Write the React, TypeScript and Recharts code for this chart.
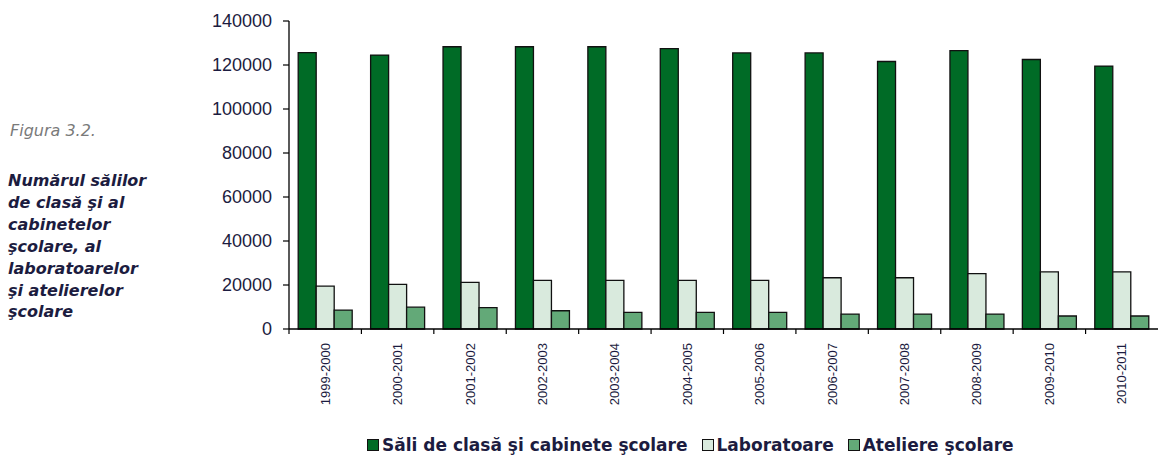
import React from "react";
import { BarChart, Bar, XAxis, YAxis } from "recharts";

const years = [
  "1999-2000", "2000-2001", "2001-2002", "2002-2003", "2003-2004", "2004-2005",
  "2005-2006", "2006-2007", "2007-2008", "2008-2009", "2009-2010", "2010-2011",
];
const sali = [125600, 124500, 128300, 128300, 128300, 127400, 125500, 125500, 121600, 126500, 122500, 119500];
const laboratoare = [19500, 20300, 21200, 22100, 22100, 22100, 22100, 23300, 23300, 25200, 26000, 26000];
const ateliere = [8600, 9900, 9700, 8300, 7600, 7600, 7600, 6800, 6800, 6800, 5900, 5900];
const yTicks = [0, 20000, 40000, 60000, 80000, 100000, 120000, 140000];

const series = [
  { key: "sali", name: "Săli de clasă şi cabinete şcolare", color: "#006b26" },
  { key: "laboratoare", name: "Laboratoare", color: "#d9eadd" },
  { key: "ateliere", name: "Ateliere şcolare", color: "#63a978" },
];

const data = years.map((year, i) => ({
  year,
  sali: sali[i],
  laboratoare: laboratoare[i],
  ateliere: ateliere[i],
}));

const captionLines = [
  "Numărul sălilor",
  "de clasă şi al",
  "cabinetelor",
  "şcolare, al",
  "laboratoarelor",
  "şi atelierelor",
  "şcolare",
];

const textColor = "#1c1c40";

// label rotated bottom-to-top, plus a small tick at the left edge of each category
const YearTick = (props: any) => {
  const { x, y, payload } = props;
  const half = payload && payload.offset ? payload.offset : 36.2;
  return (
    <g>
      <line x1={x - half} x2={x - half} y1={y} y2={y + 5} stroke="#000" strokeWidth={1.2} />
      <text
        transform={`translate(${x},${y + 14}) rotate(-90)`}
        textAnchor="end"
        dominantBaseline="central"
        fontFamily="'Liberation Sans', Arial, sans-serif"
        fontSize={13}
        fill={textColor}
      >
        {payload.value}
      </text>
    </g>
  );
};

export default function App() {
  return (
    <div
      style={{
        position: "absolute",
        left: 0,
        top: 0,
        width: 1158,
        height: 459,
        background: "#fff",
        overflow: "hidden",
      }}
    >
      <div
        style={{
          position: "absolute",
          left: 10,
          top: 121,
          fontFamily: "'DejaVu Sans', sans-serif",
          fontStyle: "italic",
          fontSize: 16,
          color: "#7a7a7a",
        }}
      >
        Figura 3.2.
      </div>
      <div
        style={{
          position: "absolute",
          left: 8,
          top: 170,
          fontFamily: "'DejaVu Sans', sans-serif",
          fontStyle: "italic",
          fontWeight: "bold",
          fontSize: 16,
          lineHeight: "21.9px",
          color: textColor,
        }}
      >
        {captionLines.map((l) => (
          <div key={l}>{l}</div>
        ))}
      </div>

      <div style={{ position: "absolute", left: 0, top: 0 }}>
        <BarChart
          width={1158}
          height={459}
          data={data}
          margin={{ top: 21, right: 0, left: 0, bottom: 0 }}
          barCategoryGap="12.7%"
          barGap={0}
        >
          <XAxis
            dataKey="year"
            height={130}
            axisLine={{ stroke: "#000", strokeWidth: 1.3 }}
            tickLine={false}
            tickSize={0}
            tickMargin={0}
            interval={0}
            tick={<YearTick />}
          />
          <YAxis
            width={289}
            domain={[0, 140000]}
            ticks={yTicks}
            interval={0}
            axisLine={{ stroke: "#000", strokeWidth: 1.3 }}
            tickLine={{ stroke: "#000", strokeWidth: 1.2 }}
            tickSize={6}
            tickMargin={11}
            tick={{
              fill: textColor,
              fontSize: 18,
              fontFamily: "'Liberation Sans', Arial, sans-serif",
            }}
          />
          {series.map((s) => (
            <Bar
              key={s.key}
              dataKey={s.key}
              name={s.name}
              fill={s.color}
              stroke="#111"
              strokeWidth={1.3}
              isAnimationActive={false}
            />
          ))}
        </BarChart>
      </div>

      <div
        style={{
          position: "absolute",
          left: 367,
          top: 435,
          display: "flex",
          alignItems: "center",
          gap: 14,
          fontFamily: "'DejaVu Sans', sans-serif",
          fontWeight: "bold",
          fontSize: 17,
          color: textColor,
          whiteSpace: "nowrap",
        }}
      >
        {series.map((s) => (
          <div key={s.key} style={{ display: "flex", alignItems: "center", gap: 3 }}>
            <span
              style={{
                display: "inline-block",
                width: 10,
                height: 10,
                background: s.color,
                border: "1.3px solid #111",
              }}
            />
            <span>{s.name}</span>
          </div>
        ))}
      </div>
    </div>
  );
}
